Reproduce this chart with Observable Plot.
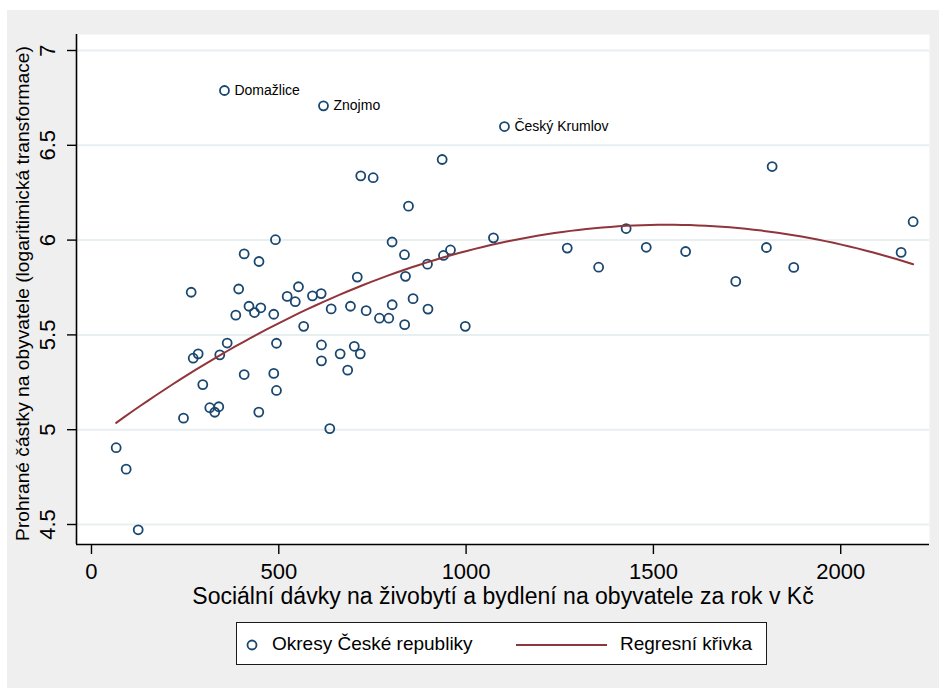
<!DOCTYPE html>
<html><head><meta charset="utf-8">
<script src="https://cdn.jsdelivr.net/npm/d3@7"></script>
<script src="https://cdn.jsdelivr.net/npm/@observablehq/plot@0.6"></script>
<style>
body{margin:0;background:#fff;font-family:"Liberation Sans",Arial,sans-serif;width:939px;height:689px;overflow:hidden;position:relative;}
#bg{position:absolute;left:7px;top:10px;width:932px;height:678px;background:#efefef;}
#chart{position:absolute;left:0;top:0;}
#legend{position:absolute;left:236px;top:622px;width:529px;height:41px;background:#fff;border:1.6px solid #1a1a1a;}
#legend .t{position:absolute;top:50%;transform:translateY(-50%);font-size:19px;color:#000;white-space:nowrap;}
#legend svg{position:absolute;left:0;top:0;}
</style></head>
<body>
<div id="bg"></div>
<div id="chart"></div>
<div id="legend">
  <svg width="529" height="41">
    <circle cx="15" cy="22" r="4.5" fill="none" stroke="#1a476f" stroke-width="1.8"></circle>
    <line x1="279" x2="370" y1="22" y2="22" stroke="#90353b" stroke-width="2"></line>
  </svg>
  <span class="t" style="left:35px">Okresy České republiky</span>
  <span class="t" style="left:383px">Regresní křivka</span>
</div>
<script>
const districtX = [65.9,92.6,124.7,245.6,266.1,271.5,284.8,297.1,315.8,329.1,
  339.8,342.5,362.2,385.2,392.9,407.6,407.6,420.4,435.1,447.1,
  446.6,451.9,486.6,486.6,491.1,493.8,493.8,522.4,544,552.5,
  566.4,589.9,613.1,613.9,613.9,639.8,636.1,663.8,683.9,691.3,
  701.5,709.5,717.5,718.8,733.2,751.9,768.7,793.6,802.4,802.7,
  835.5,838.2,836,846.2,858.4,896.9,898.2,936.1,939.6,958.3,
  997.8,1073,1270,1353.8,1427.2,1480.9,1586,1719.8,1801.7,1816.9,
  1874.6,2161.2,2193.3];
const districtY = [4.905,4.792,4.472,5.061,5.725,5.377,5.400,5.238,5.116,5.092,
  5.121,5.395,5.457,5.604,5.742,5.291,5.927,5.651,5.618,5.887,
  5.093,5.643,5.609,5.297,6.002,5.456,5.207,5.703,5.675,5.754,
  5.545,5.706,5.718,5.447,5.363,5.637,5.006,5.400,5.314,5.651,
  5.440,5.805,5.400,6.339,5.628,6.329,5.588,5.588,5.990,5.659,
  5.923,5.809,5.554,6.179,5.691,5.873,5.636,6.425,5.919,5.948,
  5.545,6.012,5.958,5.857,6.061,5.962,5.940,5.782,5.961,6.388,
  5.856,5.935,6.097];
const labeledNames = ["Domažlice","Znojmo","Český Krumlov"];
const labeledX = [355,619.3,1102.4];
const labeledY = [6.789,6.708,6.599];

const xTicks = [0,500,1000,1500,2000];
const yTicks = [4.5,5,5.5,6,6.5,7];
const xTitle = "Sociální dávky na živobytí a bydlení na obyvatele za rok v Kč";
const yTitle = "Prohrané částky na obyvatele (logaritimická transformace)";

const xDomain = [-40, 2237];
const yDomain = [4.3945, 7.0844];

const points = districtX.map((x,i)=>({x, y: districtY[i]}));
const labeled = labeledNames.map((n,i)=>({name:n, x: labeledX[i], y: labeledY[i]}));
const all = points.concat(labeled);

// quadratic least squares fit (regression curve) computed from the data
function quadFit(data){
  const S=[0,0,0,0,0], T=[0,0,0];
  for(const d of data){
    const t=d.x/1000;
    let p=1;
    for(let k=0;k<5;k++){S[k]+=p; if(k<3) T[k]+=p*d.y; p*=t;}
  }
  const A=[[S[0],S[1],S[2],T[0]],[S[1],S[2],S[3],T[1]],[S[2],S[3],S[4],T[2]]];
  for(let i=0;i<3;i++){
    for(let j=i+1;j<3;j++){
      const f=A[j][i]/A[i][i];
      for(let k=i;k<4;k++) A[j][k]-=f*A[i][k];
    }
  }
  const c=[0,0,0];
  for(let i=2;i>=0;i--){
    let s=A[i][3];
    for(let k=i+1;k<3;k++) s-=A[i][k]*c[k];
    c[i]=s/A[i][i];
  }
  return c;
}
const coef = quadFit(all);
const xmin = d3.min(all,d=>d.x), xmax = d3.max(all,d=>d.x);
const curve = d3.range(0,101).map(i=>{
  const x = xmin + (xmax-xmin)*i/100, t=x/1000;
  return {x, y: coef[0]+coef[1]*t+coef[2]*t*t};
});

const chart = Plot.plot({
  width: 939,
  height: 615,
  marginLeft: 76,
  marginRight: 10,
  marginTop: 34,
  marginBottom: 71,
  style: {fontFamily: "'Liberation Sans', Arial, sans-serif", background: "transparent", color: "#000", overflow: "visible"},
  x: {domain: xDomain},
  y: {domain: yDomain},
  marks: [
    Plot.frame({fill: "white", stroke: "none"}),
    Plot.ruleY(yTicks, {stroke: "#e7eff1", strokeWidth: 2}),
    Plot.ruleX([xDomain[0]], {stroke: "#000", strokeWidth: 1.6}),
    Plot.ruleY([yDomain[0]], {stroke: "#000", strokeWidth: 1.6}),
    Plot.axisX(xTicks, {tickSize: 10, tickPadding: 9, fontSize: 22, label: null, strokeWidth: 1.4, tickFormat: d => String(d)}),
    Plot.axisY(yTicks, {tickSize: 9, tickFormat: () => "", label: null, strokeWidth: 1.4}),
    Plot.text(yTicks, {y: d => d, text: d => String(d), frameAnchor: "left", textAnchor: "middle", lineAnchor: "middle", dx: -28.5, rotate: -90, fontSize: 22}),
    Plot.text([yTitle], {text: d => d, frameAnchor: "left", textAnchor: "middle", lineAnchor: "middle", dx: -54, dy: 4, rotate: -90, fontSize: 19.2}),
    Plot.text([xTitle], {text: d => d, frameAnchor: "bottom", textAnchor: "middle", lineAnchor: "middle", dy: 52, fontSize: 23}),
    Plot.dot(all, {x: "x", y: "y", r: 4.5, stroke: "#1a476f", strokeWidth: 1.8, fill: "none"}),
    Plot.text(labeled, {x: "x", y: "y", text: "name", textAnchor: "start", dx: 10, fontSize: 14}),
    Plot.line(curve, {x: "x", y: "y", stroke: "#90353b", strokeWidth: 2})
  ]
});
document.getElementById("chart").appendChild(chart);
</script>
</body></html>
